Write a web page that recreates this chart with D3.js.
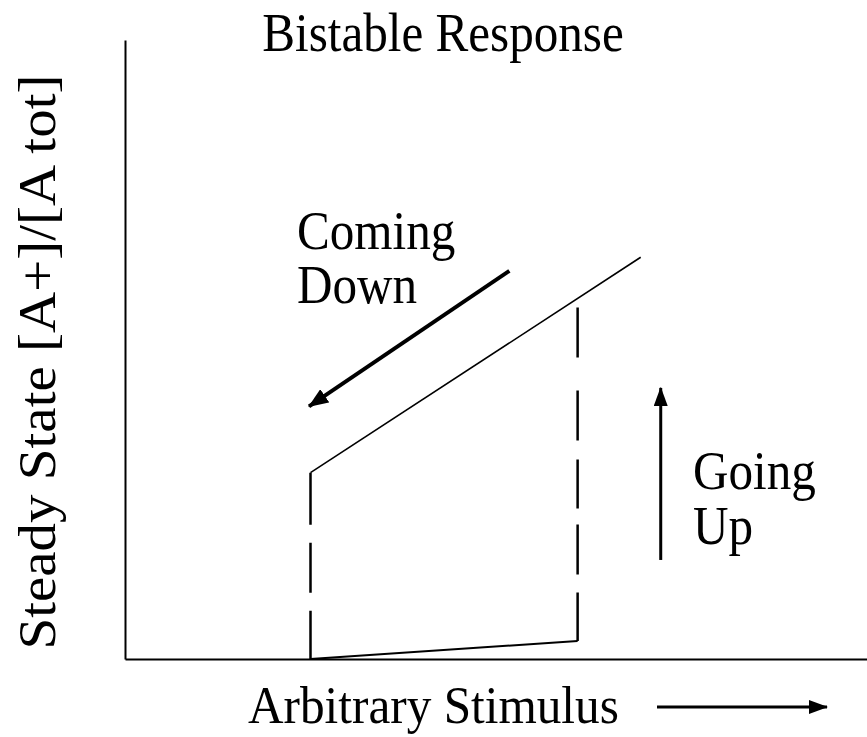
<!DOCTYPE html>
<html>
<head>
<meta charset="utf-8">
<script src="https://cdn.jsdelivr.net/npm/d3@7"></script>
<style>
  body { margin: 0; background: #fff; }
  svg text { font-family: "Times New Roman", "Liberation Serif", serif; fill: #000; }
</style>
</head>
<body>
<div id="chart"></div>
<script>
// values in arbitrary units: stimulus (s) and steady state fraction (r)
var xDomain = [0, 10];
var yDomain = [0, 1];

var lowerBranch = [{s: 2.5, r: 0.0}, {s: 6.1, r: 0.029}];
var upperBranch = [{s: 2.5, r: 0.301}, {s: 6.95, r: 0.649}];
var jumpUp = [{s: 6.1, r: 0.029}, {s: 6.1, r: 0.568}];
var jumpDown = [{s: 2.5, r: 0.301}, {s: 2.5, r: 0.0}];
var comingDownArrow = [{s: 5.18, r: 0.627}, {s: 2.48, r: 0.408}];
var goingUpArrow = [{s: 7.22, r: 0.16}, {s: 7.22, r: 0.438}];

var titleText = "Bistable Response";
var xLabel = "Arbitrary Stimulus";
var yLabel = "Steady State [A+]/[A tot]";
var comingLabel = ["Coming", "Down"];
var goingLabel = ["Going", "Up"];

var width = 867, height = 737;
// the scanned figure is a bit narrow, so the text is squeezed sideways
var squeeze = 0.91;

var svg = d3.select("#chart").append("svg")
    .attr("width", width)
    .attr("height", height);

// scales
var x = d3.scaleLinear().domain(xDomain).range([125, 867]);
var y = d3.scaleLinear().domain(yDomain).range([659, 40]);

// arrow heads
var defs = svg.append("defs");
function addHead(id, len, half) {
    defs.append("marker")
        .attr("id", id)
        .attr("markerUnits", "userSpaceOnUse")
        .attr("viewBox", "0 " + (-half) + " " + len + " " + (2 * half))
        .attr("refX", len - 1)
        .attr("refY", 0)
        .attr("markerWidth", len)
        .attr("markerHeight", 2 * half)
        .attr("orient", "auto")
        .append("path")
        .attr("d", "M0," + (-half) + "L" + len + ",0L0," + half + "Z")
        .attr("fill", "#000");
}
addHead("headBig", 20, 8);
addHead("headUp", 19, 7);
addHead("headAxis", 19, 7);

// axes, just the lines
var xAxis = d3.axisBottom(x).tickValues([]).tickSizeOuter(0);
var yAxis = d3.axisLeft(y).tickValues([]).tickSizeOuter(0);

svg.append("g")
    .attr("transform", "translate(0," + y(0) + ")")
    .call(xAxis)
    .select(".domain").attr("stroke-width", 2);

svg.append("g")
    .attr("transform", "translate(" + x(0) + ",0)")
    .call(yAxis)
    .select(".domain").attr("stroke-width", 2);

var line = d3.line()
    .x(function (d) { return x(d.s); })
    .y(function (d) { return y(d.r); });

// branches
svg.append("path").datum(lowerBranch)
    .attr("d", line).attr("fill", "none")
    .attr("stroke", "#000").attr("stroke-width", 2);

svg.append("path").datum(upperBranch)
    .attr("d", line).attr("fill", "none")
    .attr("stroke", "#000").attr("stroke-width", 1.6);

// dashed jumps (drawn top to bottom)
svg.append("path").datum(jumpUp.slice().reverse())
    .attr("d", line).attr("fill", "none")
    .attr("stroke", "#000").attr("stroke-width", 2.5)
    .attr("stroke-dasharray", "50,33,50,19,49,16,50,18,60");

svg.append("path").datum(jumpDown)
    .attr("d", line).attr("fill", "none")
    .attr("stroke", "#000").attr("stroke-width", 2.5)
    .attr("stroke-dasharray", "52,18,50,18,60");

// direction arrows
svg.append("path").datum(comingDownArrow)
    .attr("d", line).attr("fill", "none")
    .attr("stroke", "#000").attr("stroke-width", 4)
    .attr("marker-end", "url(#headBig)");

svg.append("path").datum(goingUpArrow)
    .attr("d", line).attr("fill", "none")
    .attr("stroke", "#000").attr("stroke-width", 3)
    .attr("marker-end", "url(#headUp)");

// texts
function place(px, py, sq) {
    return "translate(" + px + "," + py + ") scale(" + (sq || squeeze) + ",1)";
}

svg.append("text")
    .attr("transform", place(443, 51))
    .attr("text-anchor", "middle")
    .attr("font-size", 54)
    .text(titleText);

svg.append("text")
    .attr("transform", place(248, 723, 0.93))
    .attr("font-size", 53)
    .text(xLabel);

// arrow after the x label
svg.append("line")
    .attr("x1", 657).attr("x2", 827)
    .attr("y1", 707).attr("y2", 707)
    .attr("stroke", "#000").attr("stroke-width", 3)
    .attr("marker-end", "url(#headAxis)");

svg.append("text")
    .attr("transform", place(55, 362) + " rotate(-90)")
    .attr("text-anchor", "middle")
    .attr("font-size", 57)
    .text(yLabel);

svg.selectAll(".coming").data(comingLabel).enter()
    .append("text")
    .attr("class", "coming")
    .attr("transform", function (d, i) { return place(297, 249 + i * 54); })
    .attr("font-size", 54)
    .text(function (d) { return d; });

svg.selectAll(".going").data(goingLabel).enter()
    .append("text")
    .attr("class", "going")
    .attr("transform", function (d, i) { return place(693, 489 + i * 55); })
    .attr("font-size", 54)
    .text(function (d) { return d; });
</script>
</body>
</html>
